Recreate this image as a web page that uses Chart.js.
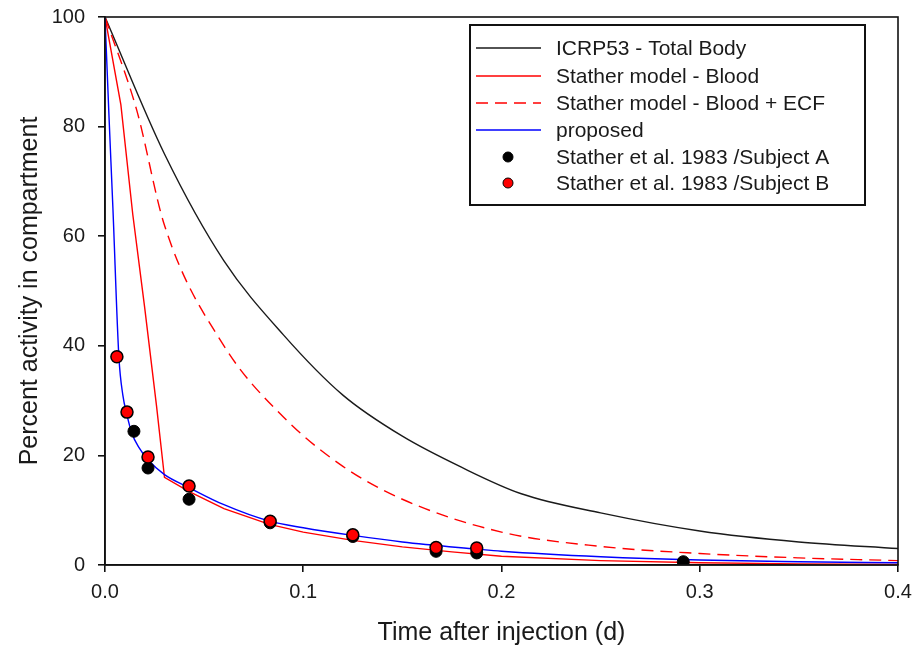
<!DOCTYPE html>
<html>
<head>
<meta charset="utf-8">
<title>Percent activity in compartment</title>
<script src="https://cdn.jsdelivr.net/npm/chart.js@4.4.1/dist/chart.umd.min.js"></script>
<style>
  html, body { margin: 0; padding: 0; background: #fff; }
  canvas { display: block; }
</style>
</head>
<body>
<canvas id="chartjs-0" width="916" height="650"></canvas>
<script>
// values (time in days, percent activity)

var icrpTime  = [0, 0.03, 0.06, 0.09, 0.12, 0.15, 0.18, 0.21, 0.25, 0.3, 0.35, 0.4];
var icrpValue = [100, 75, 55.5, 42, 31, 23.5, 17.8, 13, 9.5, 6.2, 4.2, 3.0];

var bloodTime  = [0, 0.008, 0.014, 0.02, 0.026, 0.03, 0.042, 0.06, 0.083, 0.1, 0.125, 0.15, 0.175, 0.2, 0.25, 0.3, 0.35, 0.4];
var bloodValue = [100, 84, 64, 47, 29, 16, 13.5, 10.3, 7.4, 6.0, 4.5, 3.3, 2.4, 1.6, 0.8, 0.4, 0.2, 0.1];

var ecfTime  = [0, 0.016, 0.03, 0.06, 0.09, 0.12, 0.15, 0.2, 0.25, 0.3, 0.35, 0.4];
var ecfValue = [100, 83, 62, 40, 27, 18, 12, 6.0, 3.4, 2.1, 1.3, 0.8];

var propTime  = [0, 0.002, 0.004, 0.007, 0.009, 0.011, 0.0136, 0.017, 0.0217, 0.03, 0.042, 0.06, 0.083, 0.1, 0.125, 0.15, 0.1875, 0.2, 0.25, 0.3, 0.35, 0.4];
var propValue = [100, 82, 65, 38, 31, 27.5, 24, 21.5, 19.2, 16.5, 14.2, 11, 8.0, 6.8, 5.4, 4.2, 2.9, 2.5, 1.5, 0.9, 0.6, 0.4];

var subjATime  = [0.0146, 0.0217, 0.0424, 0.0833, 0.125, 0.167, 0.1875, 0.2917];
var subjAValue = [24.4, 17.7, 12.0, 7.7, 5.2, 2.5, 2.2, 0.6];

var subjBTime  = [0.006, 0.0111, 0.0217, 0.0424, 0.0833, 0.125, 0.167, 0.1875];
var subjBValue = [38, 27.9, 19.7, 14.4, 8.0, 5.5, 3.2, 3.1];

var xTicks = [0, 0.1, 0.2, 0.3, 0.4];
var yTicks = [0, 20, 40, 60, 80, 100];

var labels = [
    "ICRP53 - Total Body",
    "Stather model - Blood",
    "Stather model - Blood + ECF",
    "proposed",
    "Stather et al. 1983 /Subject A",
    "Stather et al. 1983 /Subject B"
];

var FONT = "'Liberation Sans', Arial, sans-serif";

// turn two arrays into {x, y} points
function toPoints(xs, ys) {
    var pts = [];
    for (var i = 0; i < xs.length; i++) {
        pts.push({ x: xs[i], y: ys[i] });
    }
    return pts;
}

/* frame round the plot area and the boxed legend inside it */
var framePlugin = {
    id: "frame",
    afterDraw: function (chart) {
        var ctx = chart.ctx;
        var a = chart.chartArea;
        ctx.save();
        ctx.strokeStyle = "#111";
        ctx.lineWidth = 1.6;
        ctx.strokeRect(a.left, a.top, a.right - a.left, a.bottom - a.top);

        // legend box
        var bx = 470, by = 25, bw = 395, bh = 180;
        ctx.fillStyle = "#fff";
        ctx.fillRect(bx, by, bw, bh);
        ctx.lineWidth = 2;
        ctx.strokeStyle = "#111";
        ctx.strokeRect(bx, by, bw, bh);

        var rowY = [48, 76, 103, 130, 157, 183];
        ctx.font = "21px " + FONT;
        ctx.textBaseline = "middle";
        ctx.textAlign = "left";
        for (var i = 0; i < chart.data.datasets.length; i++) {
            var ds = chart.data.datasets[i];
            var y = rowY[i];
            if (ds.showLine) {
                ctx.beginPath();
                ctx.setLineDash(ds.borderDash || []);
                ctx.strokeStyle = ds.borderColor;
                ctx.lineWidth = 1.6;
                ctx.moveTo(476, y);
                ctx.lineTo(541, y);
                ctx.stroke();
                ctx.setLineDash([]);
            } else {
                ctx.beginPath();
                ctx.arc(508, y, 5, 0, Math.PI * 2);
                ctx.fillStyle = ds.backgroundColor;
                ctx.fill();
                ctx.lineWidth = 1;
                ctx.strokeStyle = "#000";
                ctx.stroke();
            }
            ctx.fillStyle = "#1a1a1a";
            ctx.fillText(ds.label, 556, y + 1);
        }
        ctx.restore();
    }
};

// drop the extra room chart.js keeps for overhanging tick labels
function noLabelPadding(scale) {
    scale.paddingLeft = 0;
    scale.paddingRight = 0;
    scale.paddingTop = 0;
    scale.paddingBottom = 0;
}

var ctx0 = document.getElementById("chartjs-0");
var myChart = new Chart(ctx0, {
    type: "scatter",
    data: {
        datasets: [
            { label: labels[0], data: toPoints(icrpTime, icrpValue), showLine: true,
              borderColor: "#1a1a1a", borderWidth: 1.4, pointRadius: 0, cubicInterpolationMode: "monotone", order: 4 },
            { label: labels[1], data: toPoints(bloodTime, bloodValue), showLine: true,
              borderColor: "#ff0000", borderWidth: 1.4, pointRadius: 0, tension: 0, order: 3 },
            { label: labels[2], data: toPoints(ecfTime, ecfValue), showLine: true,
              borderColor: "#ff0000", borderWidth: 1.4, borderDash: [12, 7], pointRadius: 0, cubicInterpolationMode: "monotone", order: 3 },
            { label: labels[3], data: toPoints(propTime, propValue), showLine: true,
              borderColor: "#0000ff", borderWidth: 1.4, pointRadius: 0, cubicInterpolationMode: "monotone", order: 2 },
            { label: labels[4], data: toPoints(subjATime, subjAValue), showLine: false,
              backgroundColor: "#000", borderColor: "#000", borderWidth: 1, pointRadius: 6, order: 1 },
            { label: labels[5], data: toPoints(subjBTime, subjBValue), showLine: false,
              backgroundColor: "#ff0000", borderColor: "#000", borderWidth: 1.5, pointRadius: 6, order: 0 }
        ]
    },
    options: {
        responsive: false,
        animation: false,
        layout: { padding: { left: 0, right: 18, top: 17, bottom: 0 } },
        plugins: {
            legend: { display: false },
            tooltip: { enabled: false }
        },
        scales: {
            x: {
                type: "linear",
                min: 0,
                max: 0.4,
                afterFit: function (scale) { scale.height = 85; noLabelPadding(scale); },
                afterBuildTicks: function (scale) {
                    scale.ticks = xTicks.map(function (v) { return { value: v }; });
                },
                ticks: {
                    color: "#1a1a1a",
                    font: { family: FONT, size: 20 },
                    padding: 8,
                    maxRotation: 0,
                    callback: function (v) { return v.toFixed(1); }
                },
                grid: { drawOnChartArea: false, drawTicks: true, tickLength: 7, color: "#111", lineWidth: 1.6 },
                border: { display: true, color: "#111", width: 1.6 },
                title: {
                    display: true,
                    text: "Time after injection (d)",
                    color: "#1a1a1a",
                    font: { family: FONT, size: 25 },
                    padding: { top: 0, bottom: 2 }
                }
            },
            y: {
                type: "linear",
                min: 0,
                max: 100,
                afterFit: function (scale) { scale.width = 105; noLabelPadding(scale); },
                afterBuildTicks: function (scale) {
                    scale.ticks = yTicks.map(function (v) { return { value: v }; });
                },
                ticks: {
                    color: "#1a1a1a",
                    font: { family: FONT, size: 20 },
                    padding: 13
                },
                grid: { drawOnChartArea: false, drawTicks: true, tickLength: 7, color: "#111", lineWidth: 1.6 },
                border: { display: true, color: "#111", width: 1.6 },
                title: {
                    display: true,
                    text: "Percent activity in compartment",
                    color: "#1a1a1a",
                    font: { family: FONT, size: 25 },
                    padding: { top: 15, bottom: 0 }
                }
            }
        }
    },
    plugins: [framePlugin]
});
</script>
</body>
</html>
